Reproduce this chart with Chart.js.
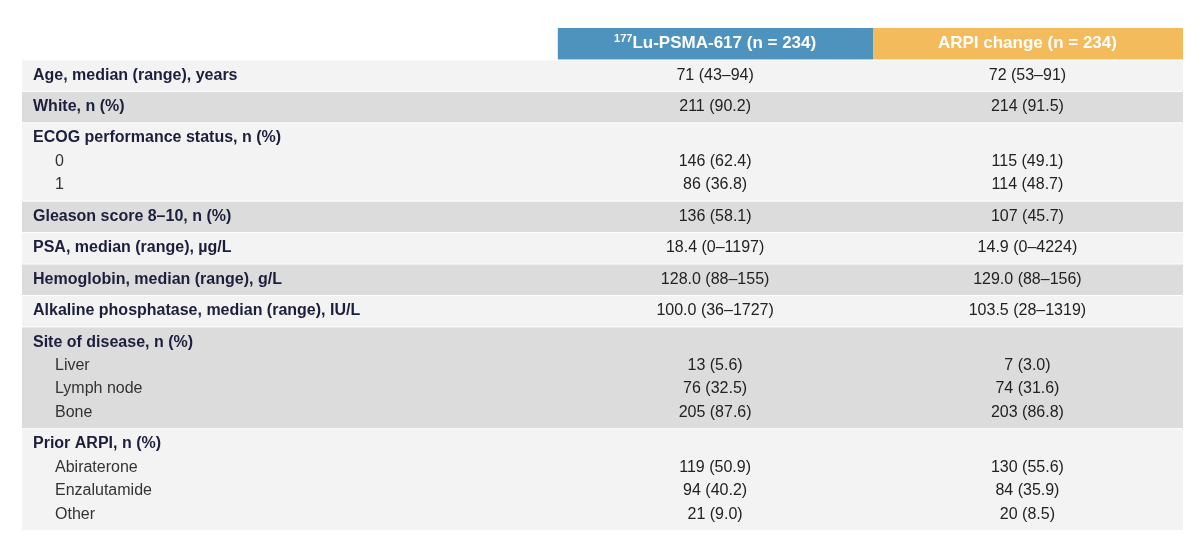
<!DOCTYPE html>
<html>
<head>
<meta charset="utf-8">
<script src="https://cdn.jsdelivr.net/npm/chart.js@4"></script>
<style>
  body { margin: 0; background: #ffffff; }
  #wrap { width: 1200px; height: 542px; }
</style>
</head>
<body>
<div id="wrap"><canvas id="chart"></canvas></div>
<script>
const groupLabels = [
  'Age, median (range), years',
  'White, n (%)',
  'ECOG performance status, n (%)',
  'Gleason score 8\u201310, n (%)',
  'PSA, median (range), \u00b5g/L',
  'Hemoglobin, median (range), g/L',
  'Alkaline phosphatase, median (range), IU/L',
  'Site of disease, n (%)',
  'Prior ARPI, n (%)',
];
const subLabels = [
  [], [], ['0', '1'], [], [], [], [], ['Liver', 'Lymph node', 'Bone'],
  ['Abiraterone', 'Enzalutamide', 'Other'],
];
const luValues = [
  ['71 (43\u201394)'], ['211 (90.2)'], ['', '146 (62.4)', '86 (36.8)'], ['136 (58.1)'],
  ['18.4 (0\u20131197)'], ['128.0 (88\u2013155)'], ['100.0 (36\u20131727)'],
  ['', '13 (5.6)', '76 (32.5)', '205 (87.6)'],
  ['', '119 (50.9)', '94 (40.2)', '21 (9.0)'],
];
const arpiValues = [
  ['72 (53\u201391)'], ['214 (91.5)'], ['', '115 (49.1)', '114 (48.7)'], ['107 (45.7)'],
  ['14.9 (0\u20134224)'], ['129.0 (88\u2013156)'], ['103.5 (28\u20131319)'],
  ['', '7 (3.0)', '74 (31.6)', '203 (86.8)'],
  ['', '130 (55.6)', '84 (35.9)', '20 (8.5)'],
];
const headerLu = ['177', 'Lu-PSMA-617 (n = 234)'];
const headerArpi = 'ARPI change (n = 234)';

// table geometry in scale units
const LINE = 23.5, PAD = 8;
const colEdges = [0, 46.15, 73.3, 100];
const colCenters = [59.7, 86.6];

const rows = [];
let y = PAD + LINE;
groupLabels.forEach((g, i) => {
  const lines = 1 + subLabels[i].length;
  const h = PAD + LINE * lines;
  rows.push({ top: y, bottom: y + h, i });
  y += h;
});
const total = y;

const tablePlugin = {
  id: 'table',
  beforeDatasetsDraw(chart) {
    const { ctx, scales: { x, y } } = chart;
    const px = v => x.getPixelForValue(v);
    const py = v => y.getPixelForValue(v);
    ctx.save();
    // header
    ctx.fillStyle = '#4e93bd';
    ctx.fillRect(px(colEdges[1]), py(0), px(colEdges[2]) - px(colEdges[1]), py(PAD + LINE) - py(0));
    ctx.fillStyle = '#f4bb5c';
    ctx.fillRect(px(colEdges[2]), py(0), px(colEdges[3]) - px(colEdges[2]), py(PAD + LINE) - py(0));
    ctx.fillStyle = '#ffffff';
    ctx.textBaseline = 'middle';
    const hy = py((PAD + LINE) / 2);
    ctx.font = 'bold 17px "Liberation Sans", Arial, sans-serif';
    const mainW = ctx.measureText(headerLu[1]).width;
    ctx.font = 'bold 11px "Liberation Sans", Arial, sans-serif';
    const supW = ctx.measureText(headerLu[0]).width;
    let sx = px(colCenters[0]) - (mainW + supW) / 2;
    ctx.textAlign = 'left';
    ctx.fillText(headerLu[0], sx, hy - 5);
    ctx.font = 'bold 17px "Liberation Sans", Arial, sans-serif';
    ctx.fillText(headerLu[1], sx + supW, hy);
    ctx.textAlign = 'center';
    ctx.fillText(headerArpi, px(colCenters[1]), hy);

    rows.forEach(r => {
      ctx.fillStyle = r.i % 2 ? '#dcdcdc' : '#f3f3f3';
      ctx.fillRect(px(0), py(r.top) + 1, px(100) - px(0), py(r.bottom) - py(r.top) - 1);
      const lineY = k => py(r.top + PAD / 2 + LINE * (k + 0.5));
      ctx.textAlign = 'left';
      ctx.fillStyle = '#1b1f3b';
      ctx.font = 'bold 16px "Liberation Sans", Arial, sans-serif';
      ctx.fillText(groupLabels[r.i], px(0) + 11, lineY(0));
      ctx.font = '16px "Liberation Sans", Arial, sans-serif';
      ctx.fillStyle = '#333333';
      subLabels[r.i].forEach((s, k) => ctx.fillText(s, px(0) + 33, lineY(k + 1)));
      ctx.textAlign = 'center';
      ctx.fillStyle = '#222222';
      luValues[r.i].forEach((s, k) => ctx.fillText(s, px(colCenters[0]), lineY(k)));
      arpiValues[r.i].forEach((s, k) => ctx.fillText(s, px(colCenters[1]), lineY(k)));
    });
    ctx.restore();
  }
};

new Chart(document.getElementById('chart'), {
  type: 'scatter',
  data: { datasets: [{ data: [] }] },
  options: {
    responsive: true,
    maintainAspectRatio: false,
    animation: false,
    layout: { padding: { top: 28, bottom: 12, left: 22, right: 17 } },
    plugins: { legend: { display: false }, tooltip: { enabled: false } },
    scales: {
      x: { type: 'linear', min: 0, max: 100, display: false },
      y: { type: 'linear', min: 0, max: total, reverse: true, display: false },
    },
  },
  plugins: [tablePlugin],
});
</script>
</body>
</html>
